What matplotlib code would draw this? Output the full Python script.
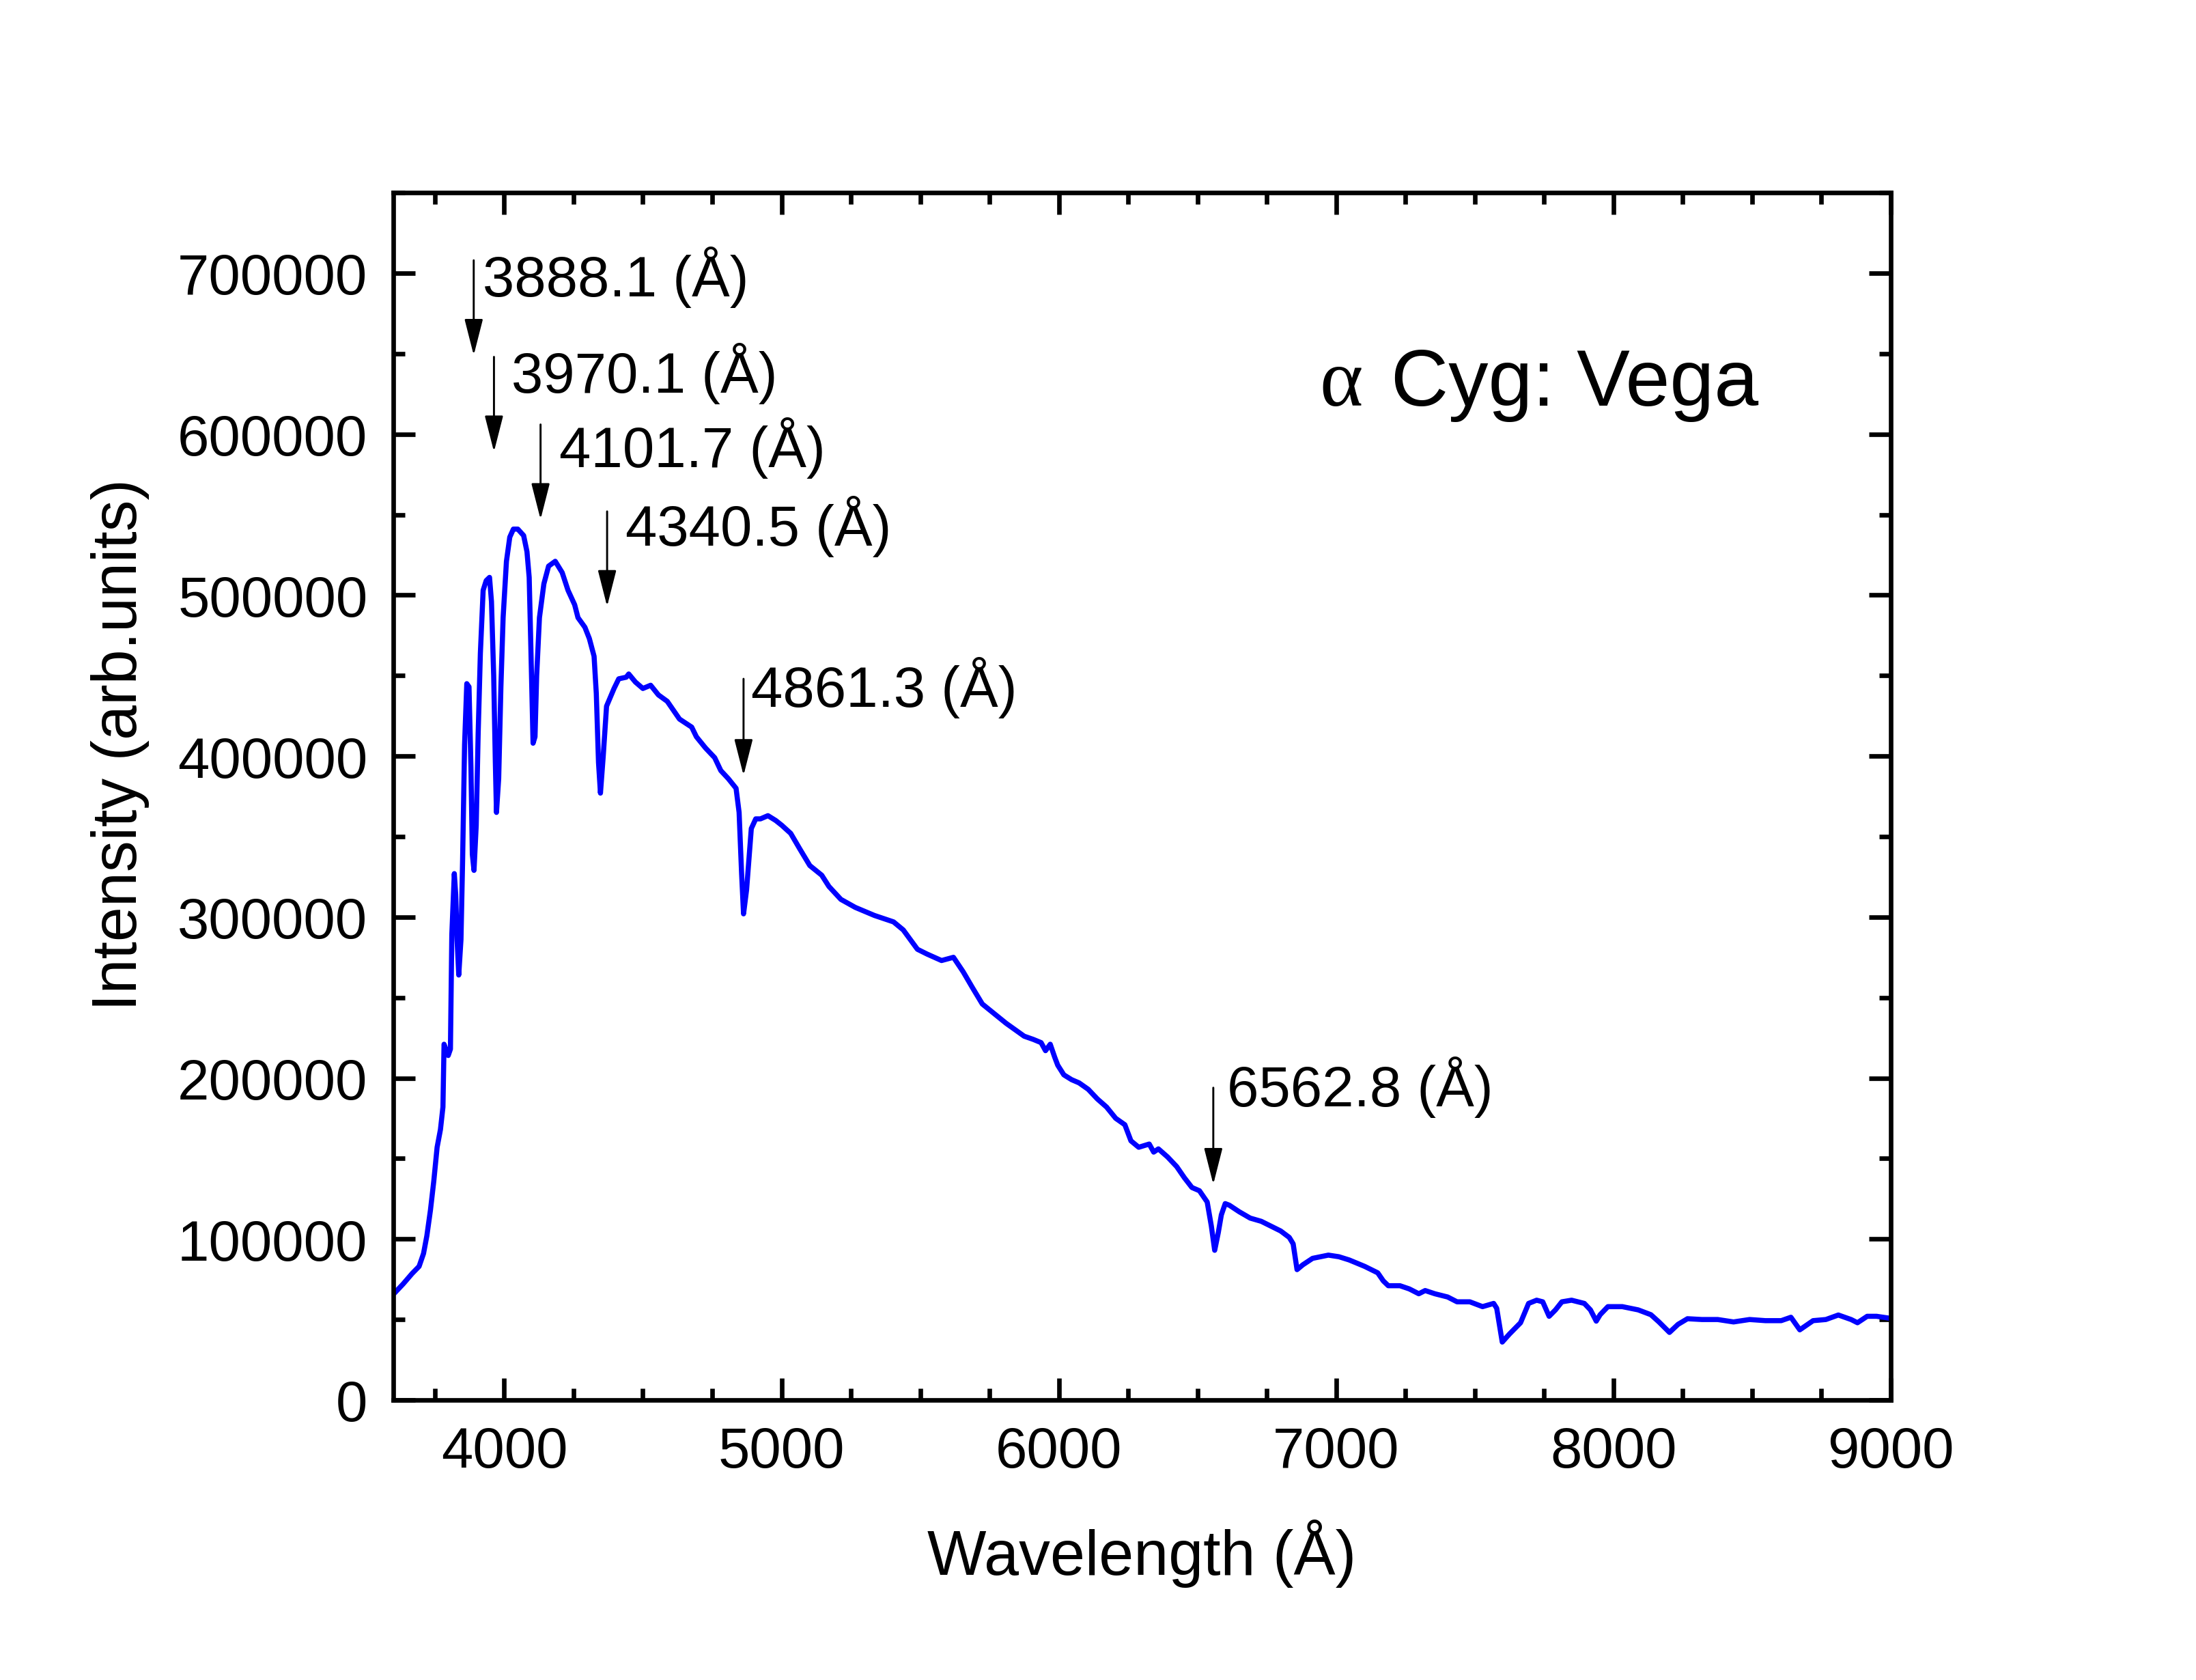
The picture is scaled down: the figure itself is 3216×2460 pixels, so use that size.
import matplotlib
matplotlib.use('Agg')
import matplotlib.pyplot as plt
from matplotlib.ticker import MultipleLocator

plt.rcParams['font.family'] = ['Liberation Sans', 'DejaVu Sans']

# spectre de Vega (longueur d'onde en Angstrom, intensite en u.a.)
wavelength = [3602, 3635, 3668, 3693, 3709, 3721, 3734, 3746, 3758, 3770, 3779, 3783, 3798, 3806,
              3811, 3820, 3825, 3830, 3836, 3844, 3850, 3857, 3865, 3873, 3880, 3885, 3891, 3899,
              3906, 3914, 3924, 3935, 3947, 3954, 3962, 3968, 3972, 3980, 3988, 3996, 4008, 4020,
              4033, 4049, 4070, 4082, 4090, 4096, 4104, 4111, 4117, 4127, 4143, 4160, 4184, 4209,
              4230, 4254, 4266, 4291, 4307, 4324, 4332, 4340, 4347, 4357, 4369, 4396, 4413, 4440,
              4449, 4473, 4500, 4528, 4556, 4588, 4616, 4632, 4676, 4693, 4726, 4759, 4781, 4808,
              4836, 4847, 4856, 4863, 4874, 4891, 4907, 4924, 4951, 4979, 5001, 5033, 5067, 5102,
              5145, 5171, 5214, 5266, 5335, 5404, 5439, 5490, 5525, 5577, 5620, 5655, 5689, 5724,
              5767, 5810, 5875, 5908, 5936, 5952, 5969, 5985, 5996, 6018, 6046, 6073, 6106, 6139,
              6172, 6205, 6238, 6260, 6288, 6326, 6342, 6359, 6392, 6425, 6453, 6480, 6507, 6535,
              6550, 6562, 6575, 6586, 6600, 6615, 6650, 6690, 6730, 6765, 6800, 6831, 6845, 6859,
              6880, 6915, 6972, 7010, 7047, 7103, 7150, 7170, 7188, 7230, 7264, 7298, 7321, 7356,
              7402, 7436, 7482, 7528, 7568, 7579, 7599, 7625, 7665, 7694, 7723, 7745, 7768, 7791,
              7814, 7849, 7895, 7917, 7938, 7952, 7980, 8032, 8089, 8135, 8164, 8202, 8233, 8267,
              8319, 8376, 8433, 8491, 8548, 8605, 8640, 8672, 8720, 8766, 8811, 8857, 8880, 8915,
              8949, 9000]
intensity = [66000, 72000, 78600, 83000, 91000, 102000, 118000, 136000, 157000, 168000, 182000,
             221000, 214000, 218000, 289000, 327000, 314000, 286000, 264000, 286000, 336000,
             407000, 445000, 443000, 393000, 339000, 329000, 357000, 414000, 464000, 503000,
             509000, 511000, 496000, 450000, 396000, 365000, 386000, 443000, 486000, 521000,
             536000, 541000, 541000, 537000, 527000, 511000, 468000, 408000, 412000, 450000,
             486000, 507000, 518000, 521000, 514000, 503000, 494000, 486000, 480000, 473000,
             462000, 439000, 396000, 377000, 400000, 431000, 442000, 448000, 449000, 451000,
             446000, 442000, 444000, 438000, 434000, 427000, 423000, 418000, 412000, 405000,
             399000, 391000, 386000, 380000, 365000, 327000, 302000, 317000, 355000, 361000,
             361000, 363000, 360000, 357000, 352000, 342000, 332000, 326000, 319000, 311000,
             306000, 301000, 297000, 292000, 280000, 277000, 273000, 275000, 266000, 256000,
             246000, 240000, 234000, 226000, 224000, 222000, 217000, 221000, 213000, 208000,
             202000, 199000, 197000, 193000, 187000, 182000, 175000, 171000, 161000, 157000,
             159000, 154000, 156000, 151000, 145000, 138000, 132000, 130000, 123000, 108000,
             93000, 104000, 115000, 122000, 121000, 117000, 113000, 111000, 108000, 105000,
             101000, 97000, 81000, 84000, 88000, 90000, 89000, 87000, 83000, 79000, 74000,
             71000, 71000, 69000, 66000, 68000, 66000, 64000, 61000, 61000, 58000, 60000,
             57000, 36000, 41000, 48000, 60000, 62000, 61000, 52000, 56000, 61000, 62000,
             60000, 56000, 49000, 53000, 58000, 58000, 56000, 53000, 48500, 42000, 47000,
             50500, 50000, 50000, 48500, 50000, 49300, 49300, 51400, 43600, 49300, 50000,
             52800, 50000, 48000, 52000, 52000, 50700]

# raies de Balmer annotees
line_labels = ['3888.1 (Å)', '3970.1 (Å)', '4101.7 (Å)', '4340.5 (Å)', '4861.3 (Å)', '6562.8 (Å)']
arrow_x = [3890, 3963, 4131, 4371, 4863, 6557]
arrow_top = [708000, 648000, 606000, 552000, 448000, 194000]
arrow_tip = [649000, 589000, 547000, 493000, 388000, 134000]
text_x = [3922, 4025, 4198, 4437, 4891, 6607]
text_y = [686000, 626000, 580000, 531000, 431000, 183000]

fig = plt.figure(figsize=(10.72, 8.203), dpi=300)
ax = fig.add_axes([0.1791, 0.1666, 0.6819, 0.7184])

ax.plot(wavelength, intensity, color='#0000FF', lw=1.8, solid_joinstyle='round')

for lab, xa, yt, yb, xt, yy in zip(line_labels, arrow_x, arrow_top, arrow_tip, text_x, text_y):
    ax.annotate('', xy=(xa, yb), xytext=(xa, yt),
                arrowprops=dict(arrowstyle='-|>,head_length=0.55,head_width=0.14',
                                color='black', lw=0.7, shrinkA=0, shrinkB=0,
                                mutation_scale=20))
    ax.text(xt, yy, lab, fontsize=20, ha='left', va='baseline')

ax.text(6939, 618000, 'α', fontsize=29, family=['Liberation Serif', 'DejaVu Serif'],
        ha='left', va='baseline')
ax.text(7197, 618000, 'Cyg: Vega', fontsize=28, ha='left', va='baseline')

ax.set_xlim(3600, 9000)
ax.set_ylim(0, 750000)
ax.xaxis.set_major_locator(MultipleLocator(1000))
ax.xaxis.set_minor_locator(MultipleLocator(250))
ax.yaxis.set_major_locator(MultipleLocator(100000))
ax.yaxis.set_minor_locator(MultipleLocator(50000))
ax.ticklabel_format(style='plain', axis='y')

ax.tick_params(which='both', direction='in', top=True, right=True, width=1.6, labelsize=20, pad=9)
ax.tick_params(which='major', length=7.7)
ax.tick_params(which='minor', length=4)
for s in ax.spines.values():
    s.set_linewidth(1.6)

ax.set_xlabel('Wavelength (Å)', fontsize=22, labelpad=14)
ax.set_ylabel('Intensity (arb.units)', fontsize=22)
ax.yaxis.set_label_coords(-0.163, 0.543)

fig.savefig('out.png', dpi=300)
